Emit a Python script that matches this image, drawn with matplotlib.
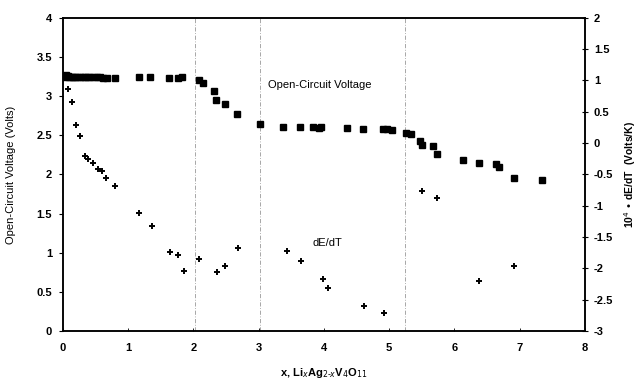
import matplotlib
matplotlib.use('Agg')
import matplotlib.pyplot as plt
import numpy as np

plt.rcParams['font.family'] = ['Liberation Sans', 'DejaVu Sans']
plt.rcParams['font.size'] = 7.5

# Open-circuit voltage (left axis, Volts)
ocv_x = [0.03, 0.05, 0.07, 0.09, 0.12, 0.15, 0.18, 0.22, 0.26, 0.30, 0.34, 0.38,
         0.42, 0.47, 0.52, 0.57, 0.62, 0.68, 0.79, 1.17, 1.34, 1.63, 1.76, 1.83,
         2.08, 2.15, 2.31, 2.34, 2.48, 2.67, 3.02, 3.38, 3.63, 3.83, 3.92, 3.96,
         4.35, 4.60, 4.90, 4.97, 5.05, 5.26, 5.33, 5.47, 5.51, 5.67, 5.74, 6.14,
         6.38, 6.64, 6.68, 6.91, 7.34]
ocv_v = [3.25, 3.27, 3.26, 3.25, 3.25, 3.24, 3.24, 3.24, 3.24, 3.24, 3.24, 3.24,
         3.24, 3.24, 3.24, 3.24, 3.23, 3.23, 3.23, 3.25, 3.25, 3.23, 3.23, 3.24,
         3.20, 3.17, 3.06, 2.95, 2.90, 2.77, 2.65, 2.61, 2.60, 2.60, 2.59, 2.60,
         2.59, 2.58, 2.58, 2.58, 2.57, 2.53, 2.52, 2.43, 2.38, 2.36, 2.26, 2.19,
         2.14, 2.13, 2.09, 1.96, 1.93]

# dE/dT (right axis, 10^4 Volts/K)
dedt_x = [0.07, 0.13, 0.20, 0.26, 0.33, 0.39, 0.46, 0.53, 0.59, 0.66, 0.79, 1.17,
          1.36, 1.64, 1.77, 1.86, 2.08, 2.36, 2.49, 2.68, 3.44, 3.65, 3.98, 4.06,
          4.62, 4.92, 5.51, 5.74, 6.38, 6.92]
dedt_v = [0.86, 0.65, 0.29, 0.12, -0.20, -0.25, -0.31, -0.42, -0.44, -0.55, -0.68, -1.12,
          -1.33, -1.74, -1.79, -2.04, -1.85, -2.06, -1.97, -1.67, -1.73, -1.89, -2.17, -2.32,
          -2.60, -2.72, -0.76, -0.88, -2.20, -1.97]

phase_x = [2.02, 3.02, 5.25]

fig = plt.figure(figsize=(6.37, 3.80), dpi=100)
ax = fig.add_axes([0.099, 0.129, 0.819, 0.824])
ax2 = ax.twinx()

for xv in phase_x:
    ax.axvline(xv, color='#999999', lw=0.6, linestyle=(0, (5, 2, 1, 2)), zorder=1)

ax.plot(ocv_x, ocv_v, linestyle='none', marker='s', ms=4.2, color='black', zorder=3)
ax2.plot(dedt_x, dedt_v, linestyle='none', marker='+', ms=5, mew=1.4, color='black', zorder=3)

ax.set_xlim(0, 8)
ax.set_ylim(0, 4)
ax2.set_ylim(-3, 2)
ax.set_xticks(np.arange(0, 9, 1))
ax.set_yticks(np.arange(0, 4.01, 0.5))
ax.set_yticklabels(['0', '0.5', '1', '1.5', '2', '2.5', '3', '3.5', '4'])
ax2.set_yticks(np.arange(-3, 2.01, 0.5))
ax2.set_yticklabels(['-3', '-2.5', '-2', '-1.5', '-1', '-0.5', '0', '0.5', '1', '1.5', '2'])

for a in (ax, ax2):
    for s in a.spines.values():
        s.set_linewidth(1.1)
    for lab in a.get_yticklabels() + a.get_xticklabels():
        lab.set_fontweight('bold')
        lab.set_fontsize(8)

ax.tick_params(axis='y', direction='out', length=3, width=0.8, pad=5)
ax.tick_params(axis='x', direction='in', length=2, width=0.6, pad=9)
ax2.tick_params(axis='y', direction='inout', length=5, width=0.8, pad=4)

ax.set_ylabel('Open-Circuit Voltage (Volts)', fontsize=8)
ax.yaxis.set_label_coords(-0.09, 0.5)
ax2.set_ylabel('10$^4$ \u2022 dE/dT  (Volts/K)', fontsize=7.5, fontweight='bold')
ax2.yaxis.set_label_coords(1.072, 0.5)
ax.set_xlabel('x, Li$_x$Ag$_{2\u2010x}$V$_4$O$_{11}$', fontsize=8, fontweight='bold', labelpad=9)

ax.text(3.14, 3.14, 'Open-Circuit Voltage', fontsize=8, va='center', ha='left')
ax.text(3.83, 1.12, 'dE/dT', fontsize=8, va='center', ha='left')

fig.savefig('out.png', dpi=100, facecolor='white')
